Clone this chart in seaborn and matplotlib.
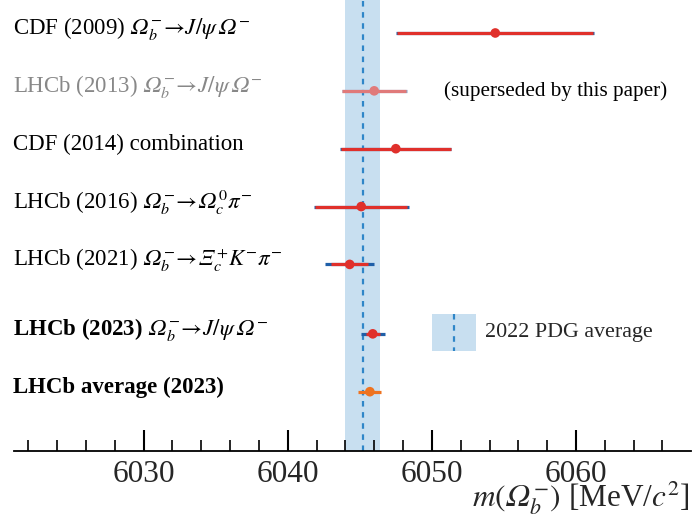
import matplotlib
matplotlib.use("Agg")
import matplotlib.pyplot as plt
import seaborn as sns
import pandas as pd
from matplotlib.patches import Rectangle

sns.set_theme(style="white")
plt.rcParams['font.family'] = ['Liberation Serif', 'DejaVu Serif']
plt.rcParams['mathtext.fontset'] = 'stix'

OM = "\U0001D6FA"   # mathematical italic capital omega
XI = "\U0001D6EF"   # mathematical italic capital xi

labels = [
    "CDF (2009) $" + OM + r"_b^{-}\!\rightarrow\! J/\psi\," + OM + r"^{-}$",
    "LHCb (2013) $" + OM + r"_b^{-}\!\rightarrow\! J/\psi\," + OM + r"^{-}$",
    "CDF (2014) combination",
    "LHCb (2016) $" + OM + r"_b^{-}\!\rightarrow\!" + OM + r"_c^{0}\pi^{-}$",
    "LHCb (2021) $" + OM + r"_b^{-}\!\rightarrow\!" + XI + r"_c^{+}K^{-}\pi^{-}$",
    "LHCb (2023) $" + OM + r"_b^{-}\!\rightarrow\! J/\psi\," + OM + r"^{-}$",
    "LHCb average (2023)",
]
values = [6054.4, 6046.0, 6047.5, 6045.1, 6044.3, 6045.9, 6045.7]
stat_err = [6.8, 2.2, 3.8, 3.2, 1.3, 0.5, 0.8]
total_err = [6.86, 2.26, 3.85, 3.3, 1.7, 0.85, 0.8]
rows = [0, 1, 2, 3, 4, 5.2, 6.2]
pdg_value = 6045.2
pdg_err = 1.2

RED = "#e0302b"
BLUE_BAR = "#1f5fa8"
ORANGE = "#ee7320"
FADED = "#e07a7a"

fig = plt.figure(figsize=(6.92, 5.29), dpi=100)
ax = fig.add_axes([0.020, 0.148, 0.979, 0.852])

ax.axvspan(pdg_value - pdg_err, pdg_value + pdg_err, color="#c8dff0", zorder=0, lw=0)
ax.axvline(pdg_value, color="#2f86c8", ls=(0, (2.5, 2.5)), lw=1.6, zorder=1)

colors = [RED, FADED, RED, RED, RED, RED, ORANGE]
for i, (v, s, t, y, c) in enumerate(zip(values, stat_err, total_err, rows, colors)):
    if i != 6:
        ax.hlines(y, v - t, v + t, color=BLUE_BAR if i != 1 else "#8aa5c8", lw=2.3, zorder=2)
    ax.hlines(y, v - s, v + s, color=c, lw=2.3, zorder=3)

df = pd.DataFrame({"value": values, "row": rows, "label": labels})
sns.scatterplot(data=df, x="value", y="row", hue="label",
                palette=dict(zip(labels, colors)), s=48, edgecolor="none",
                legend=False, ax=ax, zorder=4)

for i, (lab, y) in enumerate(zip(labels, rows)):
    kw = dict(fontsize=16.5, va="center", ha="left")
    kw["color"] = "#888888" if i == 1 else "black"
    if i >= 5:
        kw["fontweight"] = "bold"
    ax.text(6020.95, y - 0.07, lab, **kw)

ax.text(6050.85, 1, "(superseded by this paper)", fontsize=15.2, va="center", ha="left", color="black")

# legend
ax.add_patch(Rectangle((6050.0, 4.85), 3.05, 0.65, color="#c8dff0", lw=0, zorder=1))
ax.plot([6051.52, 6051.52], [4.85, 5.5], color="#2f86c8", ls=(0, (2.5, 2.5)), lw=1.6, zorder=2)
ax.text(6053.7, 5.17, "2022 PDG average", fontsize=15.8, va="center", ha="left")

ax.set_xlim(6021.0, 6068.0)
ax.set_ylim(7.22, -0.57)
ax.set_yticks([])
ax.set_ylabel("")
ax.set_xlabel("")
for sp in ["left", "right", "top"]:
    ax.spines[sp].set_visible(False)
ax.spines["bottom"].set_color("black")
ax.spines["bottom"].set_linewidth(1.3)

ax.set_xticks([6030, 6040, 6050, 6060])
ax.set_xticks([x for x in range(6022, 6068, 2)], minor=True)
ax.tick_params(axis="x", which="major", direction="in", length=15, width=1.5,
               labelsize=22.5, pad=6.5, color="black", bottom=True)
ax.tick_params(axis="x", which="minor", direction="in", length=8, width=1.2,
               color="black", bottom=True)

fig.text(0.997, 0.043, "$m(" + OM + r"_b^{-})$ [MeV/$c^{2}$]", fontsize=22.5,
         ha="right", va="baseline")

fig.savefig("out.png", dpi=100)
